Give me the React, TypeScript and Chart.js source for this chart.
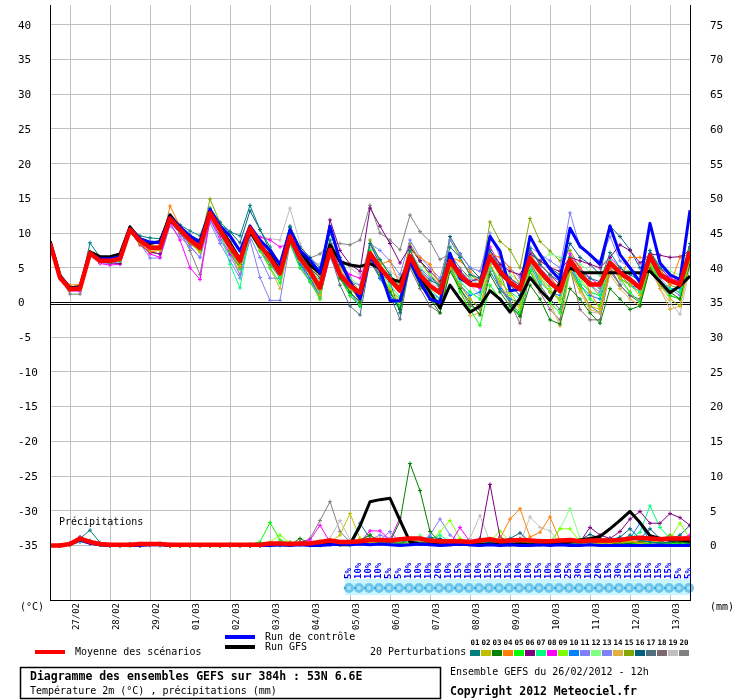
import React, { useEffect, useRef } from "react";
import { Chart, registerables } from "chart.js";
Chart.register(...registerables);

// ---------- DATA ----------
const DATE_LABELS = ["27/02","28/02","29/02","01/03","02/03","03/03","04/03","05/03","06/03","07/03","08/03","09/03","10/03","11/03","12/03","13/03"];
const DATE_TICK_STEPS = [2,6,10,14,18,22,26,30,34,38,42,46,50,54,58,62];
const LEFT_TICKS = [-35,-30,-25,-20,-15,-10,-5,0,5,10,15,20,25,30,35,40];
const RIGHT_TICKS = [0,5,10,15,20,25,30,35,40,45,50,55,60,65,70,75];
const PCT_START = 30;
const PCT_LABELS = [5,10,10,10,5,5,10,10,10,20,10,15,10,10,15,15,15,10,10,15,10,10,25,30,10,20,15,30,15,15,15,15,15,5,5];
const PERT_COLORS = ["#008080","#c0c000","#008000","#ff8000","#00ff00","#800080","#00ff80","#ff00ff","#80ff00","#0080ff","#8080ff","#80ff80","#8080f8","#e0b040","#80a800","#006080","#507080","#806870","#c0c0c0","#808080"];

const MEAN_T = [8.6,3.6,1.9,2.0,7.1,6.0,6.0,6.3,10.5,8.9,7.9,7.9,12.1,10.5,9.0,7.9,12.9,10.5,8.1,6.0,10.7,8.3,6.4,4.2,9.5,6.4,4.5,2.1,7.6,4.0,2.4,1.4,7.1,5.0,3.3,1.7,6.7,4.0,2.4,1.4,6.0,3.9,2.6,2.4,6.6,4.5,2.9,1.9,6.4,4.5,2.9,1.7,6.1,4.0,2.6,2.6,5.7,4.3,3.3,2.1,6.7,4.0,3.1,2.6,7.4];
const CTRL_T = [8.7,3.8,2.0,2.1,7.0,6.3,6.3,6.6,10.6,9.2,8.7,8.6,12.3,10.9,9.6,8.6,13.4,11.0,9.6,7.4,11.0,9.0,7.5,5.5,10.5,7.5,6.1,4.3,11.0,6.0,3.0,0.5,6.5,4.7,0.3,0.2,6.0,3.0,0.5,0.0,7.1,3.5,2.6,2.4,9.5,7.4,1.7,1.9,9.5,6.9,4.8,3.3,10.7,8.1,6.9,5.5,11.0,6.9,5.0,2.9,11.4,5.7,4.0,3.3,13.3];
const GFS_T = [8.8,3.9,2.1,2.3,7.3,6.6,6.6,7.0,10.9,9.1,8.5,8.8,12.6,10.8,9.2,8.8,13.2,10.8,8.6,6.2,10.2,8.0,6.9,4.6,9.0,7.5,5.4,4.2,8.3,5.9,5.4,5.2,5.6,4.9,3.4,3.0,6.1,3.6,1.5,-0.8,2.5,0.5,-1.4,-0.5,1.7,0.5,-1.4,0.6,3.6,1.8,0.3,2.9,5.0,4.3,4.3,4.3,4.3,4.3,4.3,4.3,4.5,3.0,1.4,2.4,3.8];

const P01_T = [8.8,3.9,2.2,2.2,8.6,6.5,6.2,6.6,10.8,9.6,9.3,9.2,12.5,11.2,10.3,9.6,13.6,11.6,10.2,9.6,14.0,10.5,8.0,5.5,10.8,7.0,5.0,3.5,9.0,5.5,3.0,1.5,8.5,6.2,4.0,2.2,7.5,4.6,3.2,2.5,8.0,6.5,4.0,3.5,7.5,5.0,3.5,2.5,7.8,5.5,4.0,3.0,6.5,4.5,3.5,3.0,7.2,5.0,4.0,3.2,7.5,5.0,4.0,3.5,8.5];
const P02_T = [8.5,3.4,1.8,1.9,6.9,5.8,5.9,6.1,10.3,8.6,7.6,7.5,11.8,10.1,8.6,7.3,13.0,10.2,7.6,5.3,9.9,7.8,6.0,4.0,10.2,6.0,4.0,1.0,8.5,4.3,2.0,0.5,6.2,4.2,2.0,0.2,6.0,3.0,1.0,-0.5,5.0,2.5,0.5,-0.8,5.5,3.0,1.5,-0.5,5.8,3.5,1.5,0.5,4.5,2.0,-0.5,-1.0,5.5,3.5,2.5,1.0,5.5,2.5,0.5,-0.5,6.5];
const P03_T = [8.6,3.7,2.0,2.1,7.0,6.1,6.1,6.4,10.4,8.8,7.7,7.7,12.0,10.6,8.8,7.5,12.6,10.0,7.5,5.5,10.2,8.0,6.5,4.5,9.2,6.6,4.8,2.5,7.0,3.5,1.5,0.0,6.8,4.0,1.5,-1.0,5.5,2.5,0.5,-1.5,4.5,2.0,0.0,-1.8,4.0,1.5,-0.5,-2.0,2.5,0.5,-2.5,-3.1,2.0,0.5,-1.5,-3.0,2.0,0.5,-1.0,-0.5,5.0,3.0,1.5,0.5,5.5];
const P04_T = [8.7,3.8,2.5,2.6,7.3,6.2,6.0,6.2,10.2,8.4,7.3,7.5,13.9,11.0,9.2,7.6,12.4,10.0,7.8,5.2,10.4,8.8,7.4,5.8,9.6,7.5,5.5,3.5,7.0,5.0,2.5,0.0,6.5,5.5,6.0,2.5,7.5,6.5,5.5,2.5,6.5,6.0,4.5,3.0,7.0,6.5,5.0,2.5,6.0,5.5,4.0,1.5,6.5,5.0,1.5,-1.0,5.0,3.5,6.5,6.5,6.0,5.0,2.5,6.5,7.0];
const P05_T = [8.5,3.5,1.8,1.8,6.8,5.9,5.8,6.0,10.6,8.7,7.8,7.6,12.2,10.3,8.7,7.4,13.2,10.4,7.4,4.8,10.0,7.5,5.0,2.8,8.5,5.0,3.0,0.5,8.0,3.5,1.0,-0.5,7.5,4.5,1.5,-0.5,6.0,2.5,0.5,-0.5,5.0,1.5,-1.0,-3.3,2.5,0.5,-1.0,-1.5,4.5,2.0,0.0,-1.5,4.5,2.5,0.5,-0.5,5.5,3.5,1.5,0.0,6.0,3.0,1.0,0.5,7.5];
const P06_T = [8.6,3.7,2.0,2.0,7.2,6.0,5.7,5.6,10.2,8.3,7.3,7.0,11.6,10.0,8.5,7.6,12.5,10.2,8.2,6.2,10.5,8.6,6.8,5.5,9.8,7.0,5.2,4.0,11.9,7.5,5.5,4.5,13.6,11.0,8.5,5.7,8.0,6.0,4.5,3.0,6.5,4.5,3.0,3.5,7.5,5.5,4.5,4.0,7.0,6.0,5.0,4.5,6.5,6.0,5.5,5.0,6.5,8.3,7.5,5.7,7.0,6.8,6.5,6.6,7.5];
const P07_T = [8.7,3.6,1.9,2.0,7.1,6.1,6.2,6.4,10.7,9.0,8.0,7.8,12.1,10.4,8.8,7.7,12.8,10.3,5.5,2.1,10.4,7.9,5.8,3.6,9.0,6.0,4.0,1.8,7.5,4.0,2.0,0.5,6.0,4.5,2.5,0.8,6.2,3.5,2.0,0.5,5.5,3.0,1.5,0.5,5.0,3.0,1.5,0.5,5.0,3.0,1.5,0.5,5.5,3.0,1.5,1.0,6.0,3.5,2.5,1.5,5.5,3.0,2.0,1.5,6.0];
const P08_T = [8.6,3.5,1.7,1.6,6.9,5.6,5.4,5.5,10.1,8.5,7.0,6.5,11.5,9.0,5.0,3.3,12.0,9.5,7.0,5.0,10.0,9.4,9.0,8.0,8.5,6.5,4.5,2.5,7.5,5.5,4.0,3.5,7.0,5.0,3.5,2.0,6.5,4.0,2.5,1.5,6.5,4.5,3.0,2.0,8.0,5.5,3.5,2.0,7.5,5.5,4.0,2.5,7.0,5.0,3.5,2.5,6.5,5.0,3.5,2.5,7.0,5.0,3.5,3.0,8.0];
const P09_T = [8.5,3.6,2.0,2.1,7.2,6.0,6.0,6.3,10.5,9.0,8.0,8.0,12.3,10.6,9.1,8.0,13.1,10.6,8.0,5.8,10.8,8.2,6.2,4.0,9.4,6.2,4.2,1.9,7.3,4.5,2.2,0.5,7.0,4.0,2.0,0.5,5.5,3.0,1.5,0.0,5.5,3.0,1.5,0.5,6.5,3.5,1.0,-1.0,7.5,4.0,2.0,0.0,6.0,3.5,1.5,1.0,5.5,4.0,3.0,2.0,6.5,4.5,3.0,2.5,6.0];
const P10_T = [8.6,3.7,2.1,2.2,7.0,6.1,6.0,6.3,10.4,8.8,7.9,8.0,12.0,10.5,9.0,7.8,12.6,10.4,8.2,6.1,10.6,8.0,6.0,3.6,9.0,5.5,3.5,1.0,7.0,4.0,1.5,-0.5,7.0,3.5,1.0,-1.0,6.0,3.0,1.5,0.5,5.0,2.5,1.0,1.5,5.5,2.0,0.5,0.0,6.0,3.0,1.5,1.0,5.5,2.5,1.0,0.5,5.0,3.5,2.5,2.0,5.5,3.0,2.0,2.0,6.5];
const P11_T = [8.4,3.4,1.8,2.0,6.8,5.7,5.6,5.9,10.2,8.5,6.4,6.4,11.0,9.5,8.0,6.5,11.5,8.5,6.0,3.5,9.5,6.5,3.5,3.5,8.5,5.5,3.0,1.5,7.0,4.5,3.0,2.5,8.5,7.5,6.0,4.0,9.0,6.5,5.0,3.5,9.0,7.0,5.0,4.5,10.0,6.5,5.0,3.5,8.0,7.0,6.0,5.0,12.9,8.0,6.8,6.0,9.5,6.0,5.0,4.0,7.0,5.0,3.5,2.5,6.5];
const P12_T = [8.6,3.6,1.9,2.0,7.1,6.0,6.0,6.3,10.5,8.9,7.9,7.9,12.0,10.4,8.9,7.8,12.8,10.5,8.4,6.4,10.6,8.5,6.5,4.5,9.5,7.0,5.0,3.0,8.0,5.0,3.5,2.5,7.5,5.5,4.0,2.5,7.5,5.0,4.0,3.0,6.5,4.5,3.5,2.5,6.5,5.5,4.0,3.0,7.5,6.0,7.0,6.5,6.5,5.5,4.5,4.0,6.0,5.0,4.5,3.5,7.0,5.5,4.5,4.0,7.8];
const P13_T = [8.7,3.7,2.0,2.0,7.0,6.0,6.0,6.2,10.4,8.7,7.6,7.6,11.6,10.0,8.2,6.5,12.0,9.0,6.8,4.0,9.0,3.6,0.3,0.3,8.5,5.0,3.0,1.0,6.5,3.5,2.0,1.0,7.5,5.0,4.0,2.5,7.5,5.0,3.5,2.5,6.5,4.5,3.5,3.0,7.5,5.0,3.5,2.5,7.0,5.0,3.5,2.0,6.0,4.0,2.5,1.5,5.5,3.5,2.5,1.5,6.0,3.5,2.0,1.0,6.5];
const P14_T = [8.5,3.5,2.1,2.3,7.0,5.9,5.9,6.2,10.6,8.7,7.7,7.8,12.4,10.3,8.5,7.2,12.5,9.8,7.6,4.0,10.0,7.5,5.0,2.0,9.0,5.5,3.0,0.5,7.5,4.0,1.5,0.0,6.5,4.0,1.5,0.0,6.0,3.0,1.0,0.0,5.0,2.0,-1.9,-1.5,5.5,2.5,0.5,-1.0,5.0,2.0,0.0,-3.4,4.5,1.5,-1.0,-1.5,4.0,2.0,0.5,-0.5,5.0,2.0,-1.0,-0.5,5.5];
const P15_T = [8.6,3.8,2.1,2.1,7.3,6.2,6.2,6.5,10.8,9.1,8.2,8.1,12.4,10.8,9.5,8.5,14.9,11.5,8.8,6.5,11.0,8.6,6.8,4.8,10.0,7.0,5.0,3.0,8.5,5.5,3.5,1.5,9.0,6.0,4.0,2.0,8.5,6.0,4.0,2.5,9.0,6.5,4.0,3.0,11.6,8.8,7.6,5.0,12.1,8.8,7.4,6.0,7.5,5.0,2.5,1.0,6.0,4.0,2.5,1.5,6.5,4.0,2.5,2.0,7.5];
const P16_T = [8.7,3.8,2.0,2.1,7.2,6.2,6.3,6.6,10.6,9.2,8.6,8.6,12.6,11.0,9.7,9.0,13.5,11.2,10.2,8.6,13.2,10.5,7.5,5.5,11.0,8.0,6.5,5.0,10.0,6.5,3.5,0.5,8.5,5.5,3.0,-1.5,8.0,6.0,4.0,2.0,9.5,7.0,5.0,3.5,6.5,4.0,2.5,1.0,7.5,6.0,5.0,4.0,8.5,6.5,5.5,4.0,11.0,9.5,7.6,5.0,6.0,4.5,3.5,3.0,8.0];
const P17_T = [8.5,3.6,1.9,1.9,7.0,5.9,6.0,6.3,10.4,8.8,7.8,7.8,11.9,10.3,8.8,7.6,12.6,10.2,7.9,5.7,10.4,7.8,5.8,3.8,8.8,5.8,3.5,0.8,7.0,2.5,-0.5,-1.8,6.0,3.5,1.0,-2.4,5.5,2.5,0.5,-0.8,5.0,2.5,0.5,-1.0,4.5,2.0,0.0,-1.5,5.5,2.5,0.5,-1.0,5.0,2.0,-0.5,-1.5,5.0,2.5,1.0,0.0,5.5,2.5,1.0,0.5,6.0];
const P18_T = [8.6,3.5,1.8,2.0,7.1,6.0,5.9,6.2,10.3,8.7,7.7,7.7,12.0,10.3,8.7,7.6,12.7,10.3,8.0,5.8,10.2,7.5,5.5,3.5,9.0,6.0,3.5,1.5,7.0,3.5,1.0,-0.5,6.5,3.5,1.0,-1.0,5.0,2.0,-0.5,-1.5,5.5,2.0,-0.5,-1.0,5.5,2.5,0.0,-3.0,4.5,1.5,-1.0,-2.5,5.0,-1.0,-2.5,-2.5,4.5,2.5,1.0,0.5,5.0,3.0,2.0,1.5,6.5];
const P19_T = [8.6,3.6,2.0,2.1,7.2,6.1,6.1,6.4,10.6,9.0,8.1,8.0,12.2,10.6,9.1,8.0,12.9,10.6,8.3,6.2,10.4,9.5,9.2,9.0,13.6,8.5,6.0,5.5,9.0,6.5,5.0,4.0,8.0,6.0,4.5,3.5,7.5,5.0,3.0,2.0,6.5,4.0,2.5,1.0,6.0,4.0,2.5,1.0,5.5,3.5,2.0,0.5,5.0,2.5,-1.4,-1.5,4.5,3.0,1.5,0.0,5.0,2.0,0.0,-1.7,5.0];
const P20_T = [8.7,3.6,1.2,1.2,7.0,6.0,6.0,6.3,10.4,8.5,7.2,7.0,11.8,10.2,7.5,4.0,12.2,9.8,7.5,5.0,10.0,7.5,5.5,4.0,8.5,6.5,6.4,7.0,8.5,8.5,8.3,9.0,14.0,10.0,9.0,7.6,12.6,10.2,8.8,6.2,7.0,5.0,3.5,2.5,6.5,4.5,0.0,-2.0,6.0,4.0,2.5,1.5,6.5,4.5,3.0,2.0,5.5,4.0,3.0,2.5,6.0,4.0,3.5,3.0,7.0];

const MEAN_P = [0,0,0.2,1.0,0.5,0.2,0.1,0.1,0.1,0.2,0.2,0.2,0.1,0.1,0.1,0.1,0.1,0.1,0.1,0.1,0.1,0.1,0.3,0.3,0.2,0.3,0.3,0.5,0.7,0.5,0.5,0.6,0.8,0.8,0.7,0.9,1.0,1.0,0.7,0.6,0.6,0.6,0.5,0.7,0.9,0.6,0.7,0.8,0.7,0.6,0.6,0.7,0.8,0.6,0.7,0.7,0.7,0.8,1.0,1.1,1.0,0.9,1.0,1.0,1.0];
const CTRL_P = [0,0,0.2,0.8,0.3,0.1,0,0,0,0,0.1,0.1,0,0,0,0,0,0,0,0,0,0,0,0.1,0,0.1,0,0,0.1,0.2,0.1,0.2,0.1,0.2,0.1,0,0.1,0.2,0.1,0,0.1,0.2,0.1,0,0.1,0,0.1,0,0,0.1,0,0.1,0,0,0.1,0,0,0,0,0,0,0,0,0,0];
const GFS_P = [0,0,0.2,0.9,0.4,0.1,0,0,0.1,0.1,0.2,0.2,0,0,0,0,0,0,0,0,0,0,0.1,0.1,0.1,0.2,0.1,0.1,0.2,0.1,0.1,2.8,6.3,6.6,6.8,3.6,0.5,0.2,0.2,0.1,0.1,0.2,0.1,0.1,0.2,0.1,0.1,0.2,0.1,0.1,0.2,0.3,0.5,0.8,1.0,1.3,2.4,3.6,4.9,3.3,1.4,1.0,0.8,0.8,0.6];

const P01_P = [0,0,0.3,1.0,2.2,0.4,0,0,0.2,0,0.2,0.3,0,0,0,0,0.1,0,0,0,0,0.2,0,0,0.3,0.2,0,0,0.5,0.3,0.5,3.2,1.0,0.3,0.5,0.2,0.8,1.0,0.3,0.5,0.3,0.5,0.2,0.3,0.5,0.3,0.8,0.5,0.3,0.2,0.3,0.5,0.2,0.3,0.5,0.8,1.0,0.6,1.5,0.8,0.5,0.3,0.5,0.8,0.6];
const P02_P = [0,0,0.2,0.8,0.5,0.1,0,0,0,0.3,0.2,0.1,0,0,0,0,0,0,0,0,0,0,0,0.2,0.5,0.3,0.2,0.1,0.5,1.5,4.6,1.0,0.5,0.3,0.2,0.3,0.3,0.5,0.2,0.3,0.2,0.3,0.2,0.4,0.2,0.3,0.1,0.2,0.3,0.2,0.2,0.3,0.5,0.3,0.2,0.4,0.3,0.5,0.6,0.3,0.5,0.8,0.5,1.0,0.6];
const P03_P = [0,0,0.3,0.9,0.6,0.2,0,0,0.2,0.1,0.2,0.2,0.1,0,0,0,0,0,0.1,0,0.1,0.1,0.2,0.2,0.1,1.0,0.3,0.2,0.5,0.3,0.2,0.8,1.5,0.5,0.5,3.5,11.8,7.9,2.0,0.5,0.3,0.2,0.5,0.3,0.3,0.2,0.3,0.5,0.2,0.3,0.2,0.5,0.3,0.2,0.3,0.5,0.3,0.2,0.3,0.5,0.6,0.3,0.4,0.5,0.3];
const P04_P = [0,0,0.2,1.0,0.6,0.3,0.1,0.1,0.2,0,0.3,0.2,0,0,0,0,0,0,0,0,0,0.1,0.2,0.5,0.3,0.2,0.3,0.6,0.3,0.2,0.3,0.4,0.5,0.3,0.5,0.3,0.2,0.3,0.5,0.2,0.3,0.2,0.3,0.5,0.3,1.0,3.8,5.3,1.2,1.9,4.1,0.7,0.5,0.3,0.5,0.3,0.5,0.4,0.6,0.5,0.7,0.8,0.6,0.5,0.8];
const P05_P = [0,0,0.2,0.7,0.4,0.1,0,0,0,0,0.1,0.1,0,0,0,0,0,0,0.2,0.1,0.2,0.5,3.3,0.8,0.3,0.2,0.1,0.2,0.3,0.2,0.1,0.3,0.5,0.8,0.3,0.5,0.3,0.2,0.5,0.3,0.5,0.3,0.2,0.5,1.0,0.3,0.2,0.3,0.5,0.2,0.3,0.2,0.5,0.8,0.3,0.2,0.3,0.5,0.3,0.2,0.3,0.5,0.3,0.2,0.5];
const P06_P = [0,0,0.2,0.8,0.4,0.2,0,0,0.1,0.2,0.2,0.1,0,0,0,0,0,0,0,0,0,0,0.1,0.2,0.1,0.2,0.3,0.2,0.3,0.2,0.3,0.2,0.5,0.8,0.5,0.3,0.2,0.5,0.3,0.2,0.3,0.2,0.5,1.0,8.8,1.2,0.5,1.0,0.5,0.3,0.2,0.5,0.3,0.5,2.6,1.5,1.0,2.0,3.8,4.9,3.2,3.2,4.6,4.0,2.9];
const P07_P = [0,0,0.1,0.6,0.3,0.1,0,0,0,0,0,0,0,0,0,0,0,0,0,0,0,0.1,0.2,0.1,0.2,0.3,0.2,0.1,0.3,0.2,0.2,0.3,0.2,0.5,0.3,0.2,0.3,0.5,0.8,1.5,0.5,0.3,0.2,0.3,0.5,0.3,0.2,0.5,0.3,0.2,0.3,0.5,0.3,0.2,0.5,0.3,0.5,0.8,1.0,1.9,5.7,2.6,1.0,0.5,0.8];
const P08_P = [0,0,0.3,1.2,0.5,0.2,0,0,0.2,0.1,0.2,0.2,0,0,0,0,0,0,0,0,0,0,0.2,0.3,0.2,0.5,0.8,2.9,0.5,0.3,0.2,0.5,2.1,2.1,0.8,4.0,0.5,0.3,0.5,0.3,0.2,2.6,0.5,0.3,0.2,0.3,0.5,0.3,0.2,0.3,0.5,0.3,0.2,0.3,0.5,0.3,0.2,0.5,0.3,0.5,0.3,0.5,0.8,1.0,1.5];
const P09_P = [0,0,0.2,0.9,0.4,0.2,0,0,0,0,0.1,0.2,0,0,0,0,0,0,0,0,0,0,0.5,1.5,0.3,0.2,0.3,0.2,0.5,0.3,0.2,0.3,0.5,1.0,0.5,0.3,0.5,1.0,0.5,2.0,3.6,1.0,0.5,0.3,0.5,2.1,0.5,0.3,0.2,0.5,0.3,2.4,2.4,0.5,0.3,0.5,0.3,0.2,0.5,0.3,0.5,0.8,1.0,3.2,1.0];
const P10_P = [0,0,0.2,0.7,0.3,0.1,0,0,0.1,0,0.2,0.1,0,0,0,0,0,0,0,0,0,0,0.1,0.2,0.1,0.2,0.1,0.3,0.2,0.1,0.2,0.3,0.2,0.3,0.5,0.3,0.2,0.3,1.0,0.3,0.2,0.3,0.5,0.3,0.2,0.3,0.2,0.5,0.3,0.2,0.3,0.2,0.3,0.2,0.5,0.3,0.5,0.8,1.0,3.2,0.5,0.3,0.5,0.3,0.2];
const P11_P = [0,0,0.1,0.5,0.3,0.1,0,0,0,0,0,0.1,0,0,0,0,0,0,0,0,0,0,0.1,0.2,0.3,0.2,0.1,0.2,0.3,0.2,0.3,0.2,0.5,0.8,2.0,0.5,0.3,0.5,1.5,3.8,1.5,0.5,0.3,0.2,0.3,0.5,0.3,0.2,0.3,0.5,0.3,0.2,0.3,0.2,0.3,0.5,0.3,0.2,0.3,0.2,0.3,0.5,0.3,0.2,0.3];
const P12_P = [0,0,0.2,0.6,0.3,0.2,0,0,0,0.1,0.1,0,0,0,0,0,0,0,0,0,0,0.1,0.2,0.1,0.3,0.2,0.5,0.3,0.2,0.3,0.2,0.3,0.2,0.5,0.3,0.2,0.3,1.5,0.5,0.3,0.2,0.3,0.5,0.3,0.2,0.3,0.5,0.3,0.2,0.3,0.5,2.4,5.3,1.0,0.5,0.3,0.2,0.5,0.3,0.5,0.3,0.5,0.3,0.5,0.3];
const P13_P = [0,0,0.2,0.8,0.4,0.1,0,0,0,0,0.1,0.1,0,0,0,0,0,0,0,0,0,0,0.2,0.3,0.2,0.1,0.2,0.3,0.2,0.3,0.2,0.5,0.8,1.5,1.0,0.5,0.3,0.2,0.3,0.2,0.3,0.2,0.3,0.5,0.3,0.2,0.3,0.2,0.3,0.5,0.3,0.2,0.3,0.2,0.3,0.5,1.0,0.5,0.3,0.2,0.3,0.2,0.5,0.3,0.2];
const P14_P = [0,0,0.2,0.7,0.3,0.1,0,0,0,0,0.1,0.1,0,0,0,0,0,0,0,0,0,0,0.1,0.2,0.3,0.5,0.3,0.2,0.3,0.5,0.3,1.0,0.3,0.2,0.3,0.2,0.3,0.5,0.3,0.2,0.3,0.5,0.3,0.2,0.3,0.2,0.5,0.3,0.2,0.3,0.5,0.3,0.2,0.3,0.5,0.3,0.5,0.8,0.5,0.3,0.5,0.3,0.5,0.3,0.5];
const P15_P = [0,0,0.2,0.8,0.3,0.1,0,0,0.1,0,0.1,0.2,0,0,0,0,0,0,0,0,0,0,0.1,0.2,0.1,0.3,0.2,0.3,0.2,0.3,0.2,0.5,1.5,0.5,0.3,0.2,0.3,0.5,0.3,0.2,0.3,0.2,0.5,0.3,0.2,0.3,0.2,0.3,0.5,0.3,0.2,0.3,0.5,0.3,0.2,0.3,0.5,0.3,0.5,0.3,0.5,0.8,1.5,1.0,0.5];
const P16_P = [0,0,0.3,1.2,0.7,0.2,0,0,0.1,0.2,0.2,0.2,0,0,0,0,0,0,0,0,0,0,0.1,0.2,0.3,0.2,0.3,0.2,0.3,0.5,0.3,0.5,0.3,0.5,0.3,0.5,0.8,0.5,1.2,1.0,0.5,0.3,0.5,0.3,0.5,0.8,1.0,1.8,0.5,0.3,0.5,0.3,0.5,0.8,1.6,1.0,0.8,1.2,2.4,1.0,2.4,1.0,0.8,1.5,2.9];
const P17_P = [0,0,0.2,0.6,0.3,0.1,0,0,0,0,0.1,0.1,0,0,0,0,0,0,0,0,0,0,0.1,0.2,0.1,0.2,0.1,0.2,0.3,0.2,0.3,0.2,0.3,0.5,0.3,0.2,0.5,0.3,0.2,0.3,0.2,0.3,0.5,1.0,0.5,0.3,0.2,0.3,0.5,0.7,0.3,0.2,0.3,0.5,0.3,0.2,0.5,1.0,0.5,0.3,0.2,0.3,0.5,0.3,0.5];
const P18_P = [0,0,0.1,0.5,0.3,0.1,0,0,0,0,0.1,0,0,0,0,0,0,0,0,0,0,0,0.1,0.2,0.1,0.2,0.3,0.2,0.1,0.3,0.2,0.3,0.2,0.3,0.5,0.3,0.2,0.3,0.5,0.3,0.2,0.3,0.2,0.3,0.5,0.3,0.8,0.5,0.3,0.2,0.3,0.2,0.3,0.5,0.3,0.5,0.3,0.2,0.3,0.2,0.3,0.5,0.3,0.2,0.3];
const P19_P = [0,0,0.2,0.8,0.4,0.2,0,0,0,0.1,0.2,0.1,0,0,0,0,0,0,0,0,0,0,0.1,0.2,0.3,0.5,0.3,0.5,1.0,3.6,0.8,0.5,0.3,0.5,0.3,0.5,0.3,0.2,0.3,0.5,0.3,0.5,1.0,4.3,0.5,0.3,0.5,0.3,4.1,2.6,2.1,0.5,0.3,0.5,0.3,0.2,0.5,0.3,0.5,0.3,0.5,0.3,0.5,0.3,0.5];
const P20_P = [0,0,0.2,1.0,0.5,0.2,0,0,0.1,0.2,0.2,0.1,0,0,0,0,0,0,0,0,0,0,0.2,0.3,0.5,0.3,1.0,3.6,6.3,2.0,0.5,0.3,0.5,0.3,0.2,0.5,0.3,0.5,0.3,0.2,0.5,0.3,0.2,0.5,0.3,0.2,0.3,0.5,0.3,0.5,0.3,0.2,0.5,0.3,0.8,0.5,0.3,0.5,0.3,0.8,0.5,0.3,0.5,0.3,0.5];

const PERT_T = [P01_T,P02_T,P03_T,P04_T,P05_T,P06_T,P07_T,P08_T,P09_T,P10_T,P11_T,P12_T,P13_T,P14_T,P15_T,P16_T,P17_T,P18_T,P19_T,P20_T];
const PERT_P = [P01_P,P02_P,P03_P,P04_P,P05_P,P06_P,P07_P,P08_P,P09_P,P10_P,P11_P,P12_P,P13_P,P14_P,P15_P,P16_P,P17_P,P18_P,P19_P,P20_P];

// ---------- STYLE ----------
const MONO = '"DejaVu Sans Mono", monospace';
const HALF = 300 / 7;

function line(data: number[], color: string, width: number, order: number, axis: string, pts: boolean) {
  return {
    type: "line",
    data: data.map((v, i) => ({ x: i, y: v })),
    borderColor: color,
    backgroundColor: color,
    borderWidth: width,
    pointRadius: pts ? 2 : 0,
    pointStyle: "cross",
    pointBorderWidth: 1,
    pointBorderColor: color,
    tension: 0,
    order,
    yAxisID: axis,
    fill: false,
    borderJoinStyle: "round",
  };
}

const overlay = {
  id: "overlay",
  beforeDraw(chart: any) {
    const c = chart.ctx;
    c.save();
    c.fillStyle = "#fff";
    c.fillRect(0, 0, chart.width, chart.height);
    c.restore();
  },
  beforeDatasetsDraw(chart: any) {
    const c = chart.ctx;
    const a = chart.chartArea;
    const xs = chart.scales.x;
    const ys = chart.scales.y;
    c.save();
    const y0 = Math.round(ys.getPixelForValue(0));
    c.fillStyle = "#000";
    c.fillRect(a.left, y0 - 1, a.right - a.left, 1);
    c.fillStyle = "#fff";
    c.fillRect(a.left, y0, a.right - a.left, 1);
    c.fillStyle = "#000";
    c.fillRect(a.left, y0 + 1, a.right - a.left, 1);
    // percentage band
    const bx0 = xs.getPixelForValue(PCT_START) - 5;
    const bx1 = xs.getPixelForValue(64) + 1;
    const by = a.bottom - 21;
    c.fillStyle = "#ccf6ff";
    c.fillRect(bx0, by, bx1 - bx0, 16);
    PCT_LABELS.forEach((_, k) => {
      const px = xs.getPixelForValue(PCT_START + k);
      c.fillStyle = "#6cc6ea";
      c.beginPath();
      c.ellipse(px - 1, by + 9, 5, 5, 0, 0, Math.PI * 2);
      c.fill();
      c.fillStyle = "#a8e4f8";
      c.beginPath();
      c.ellipse(px - 1, by + 9, 2, 2, 0, 0, Math.PI * 2);
      c.fill();
      c.fillStyle = "#3aa8dc";
      c.fillRect(px - 6, by + 8, 2, 2);
    });
    c.restore();
  },
  afterDraw(chart: any) {
    const c = chart.ctx;
    const a = chart.chartArea;
    const xs = chart.scales.x;
    const ys = chart.scales.y;
    const ys2 = chart.scales.y2;
    c.save();
    // borders
    c.fillStyle = "#000";
    c.fillRect(a.left, a.top, 1, a.bottom - a.top + 1);
    c.fillRect(a.right, a.top, 1, a.bottom - a.top + 1);
    c.fillRect(a.left, a.bottom, a.right - a.left + 1, 1);

    // axis labels
    c.fillStyle = "#000";
    c.font = `11px ${MONO}`;
    c.textBaseline = "middle";
    c.textAlign = "left";
    LEFT_TICKS.forEach((v) => c.fillText(String(v), 18, ys.getPixelForValue(v) + 1));
    RIGHT_TICKS.forEach((v) => c.fillText(String(v), a.right + 20, ys2.getPixelForValue(v) + 1));
    c.font = `10px ${MONO}`;
    c.fillText("(°C)", 20, a.bottom + 7);
    c.fillText("(mm)", a.right + 20, a.bottom + 7);

    // dates
    c.font = `9px ${MONO}`;
    DATE_LABELS.forEach((d, k) => {
      const px = xs.getPixelForValue(DATE_TICK_STEPS[k]) + 7;
      c.save();
      c.translate(px, a.bottom + 3);
      c.rotate(-Math.PI / 2);
      c.textAlign = "right";
      c.textBaseline = "middle";
      c.fillText(d, 0, 0);
      c.restore();
    });

    // percentages
    c.fillStyle = "#0000ff";
    c.font = `bold 9px ${MONO}`;
    PCT_LABELS.forEach((p, k) => {
      const px = xs.getPixelForValue(PCT_START + k) - 1;
      c.save();
      c.translate(px, a.bottom - 21);
      c.rotate(-Math.PI / 2);
      c.textAlign = "left";
      c.textBaseline = "middle";
      c.fillText(p + "%", 0, 0);
      c.restore();
    });

    // precip label
    c.fillStyle = "#000";
    c.font = `10px ${MONO}`;
    c.textAlign = "left";
    c.textBaseline = "middle";
    c.fillText("Précipitations", 59, ys.getPixelForValue(-31.7));

    // legends
    c.fillStyle = "#ff0000";
    c.fillRect(35, 650, 30, 4);
    c.fillStyle = "#0000ff";
    c.fillRect(225, 635, 30, 4);
    c.fillStyle = "#000";
    c.fillRect(225, 645, 30, 4);
    c.fillText("Moyenne des scénarios", 75, 652);
    c.fillText("Run de contrôle", 265, 637);
    c.fillText("Run GFS", 265, 647);
    c.fillText("20 Perturbations", 370, 652);
    PERT_COLORS.forEach((col, k) => {
      c.fillStyle = col;
      c.fillRect(470 + 11 * k, 650, 10, 6);
    });
    c.fillStyle = "#000";
    c.font = `bold 7.5px ${MONO}`;
    c.textAlign = "center";
    PERT_COLORS.forEach((_, k) => {
      c.fillText(String(k + 1).padStart(2, "0"), 475 + 11 * k, 643);
    });

    // title box
    c.strokeStyle = "#000";
    c.lineWidth = 1.5;
    c.strokeRect(20.5, 667.5, 420, 31);
    c.textAlign = "left";
    c.font = `bold 11.5px ${MONO}`;
    c.fillText("Diagramme des ensembles GEFS sur 384h : 53N 6.6E", 30, 677);
    c.font = `10px ${MONO}`;
    c.fillText("Température 2m (°C) , précipitations (mm)", 30, 691);
    c.fillText("Ensemble GEFS du 26/02/2012 - 12h", 450, 672);
    c.font = `bold 11.5px ${MONO}`;
    c.fillText("Copyright 2012 Meteociel.fr", 450, 692);
    c.restore();
  },
};

export default function App() {
  const ref = useRef<HTMLCanvasElement>(null);
  useEffect(() => {
    const datasets: any[] = [
      line(MEAN_T, "#ff0000", 4.5, 0, "y", false),
      line(MEAN_P, "#ff0000", 4.5, 0, "y2", false),
      line(CTRL_T, "#0000ff", 3, 1, "y", false),
      line(CTRL_P, "#0000ff", 3, 1, "y2", false),
      line(GFS_T, "#000000", 3, 2, "y", false),
      line(GFS_P, "#000000", 3, 2, "y2", false),
      ...PERT_T.map((d, k) => line(d, PERT_COLORS[k], 1, 3, "y", true)),
      ...PERT_P.map((d, k) => line(d, PERT_COLORS[k], 1, 3, "y2", true)),
    ];
    const chart = new Chart(ref.current as HTMLCanvasElement, {
      type: "line",
      data: { datasets },
      options: {
        animation: false,
        responsive: false,
        maintainAspectRatio: false,
        events: [],
        layout: { padding: 0 },
        plugins: { legend: { display: false }, tooltip: { enabled: false }, title: { display: false } },
        scales: {
          x: {
            type: "linear",
            min: 0,
            max: 64,
            afterBuildTicks: (s: any) => { s.ticks = DATE_TICK_STEPS.map((v) => ({ value: v })); },
            afterFit: (s: any) => { s.height = 100; s.paddingLeft = 0; s.paddingRight = 0; },
            ticks: { display: false },
            grid: { color: "#c0c0c0", lineWidth: 1, drawTicks: false },
            border: { display: false },
          },
          y: {
            type: "linear",
            position: "left",
            min: -HALF,
            max: HALF,
            afterBuildTicks: (s: any) => { s.ticks = LEFT_TICKS.map((v) => ({ value: v })); },
            afterFit: (s: any) => { s.width = 50; s.paddingTop = 0; s.paddingBottom = 0; },
            ticks: { display: false },
            grid: { color: "#c0c0c0", lineWidth: 1, drawTicks: false },
            border: { display: false },
          },
          y2: {
            type: "linear",
            position: "right",
            min: 35 - HALF,
            max: 35 + HALF,
            afterBuildTicks: (s: any) => { s.ticks = RIGHT_TICKS.map((v) => ({ value: v })); },
            afterFit: (s: any) => { s.width = 50; s.paddingTop = 0; s.paddingBottom = 0; },
            ticks: { display: false },
            grid: { display: false, drawTicks: false },
            border: { display: false },
          },
        },
      } as any,
      plugins: [overlay],
    } as any);
    return () => chart.destroy();
  }, []);
  return (
    <div style={{ position: "absolute", left: 0, top: 0, width: 740, height: 700, background: "#fff" }}>
      <canvas ref={ref} width={740} height={700} style={{ display: "block", width: 740, height: 700 }} />
    </div>
  );
}
